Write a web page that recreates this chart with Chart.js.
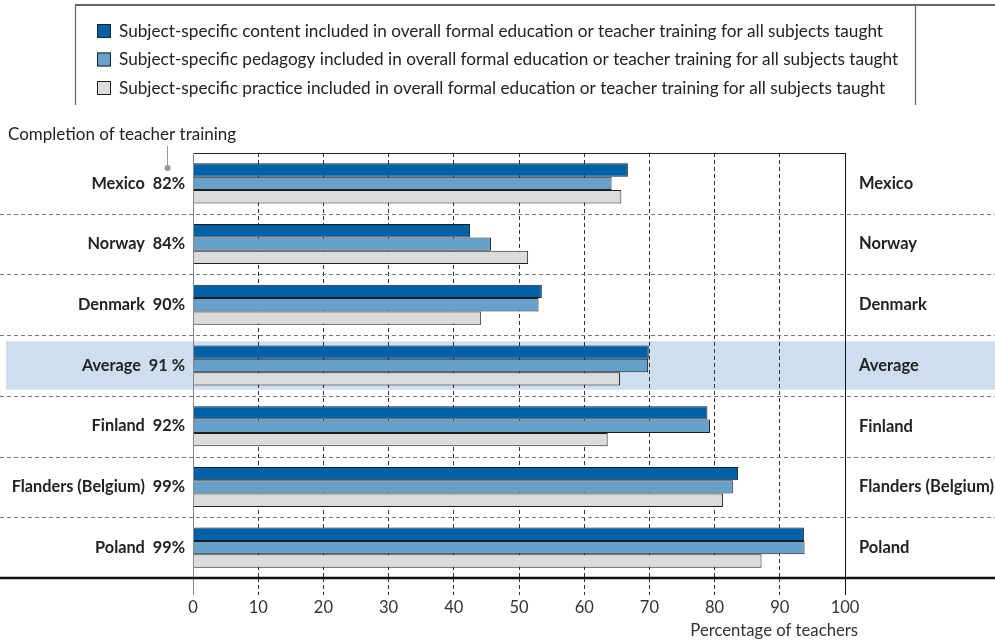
<!DOCTYPE html>
<html>
<head>
<meta charset="utf-8">
<script src="https://cdn.jsdelivr.net/npm/chart.js@4/dist/chart.umd.min.js"></script>
<style>
  html, body { margin: 0; padding: 0; background: #fff; }
  #wrap { width: 995px; height: 641px; position: relative; }
</style>
</head>
<body>
<div id="wrap"><canvas id="chart"></canvas></div>
<script>
// Categories and completion of teacher training
const countries = ['Mexico', 'Norway', 'Denmark', 'Average', 'Finland', 'Flanders (Belgium)', 'Poland'];
const completion = ['82%', '84%', '90%', '91 %', '92%', '99%', '99%'];

// Percentage of teachers
const contentVals = [66.7, 42.5, 53.5, 69.9, 78.9, 83.6, 93.7];
const pedagogyVals = [64.2, 45.7, 53.0, 69.8, 79.3, 82.8, 93.8];
const practiceVals = [65.7, 51.4, 44.2, 65.5, 63.6, 81.3, 87.2];

const seriesNames = [
  'Subject-specific content included in overall formal education or teacher training for all subjects taught',
  'Subject-specific pedagogy included in overall formal education or teacher training for all subjects taught',
  'Subject-specific practice included in overall formal education or teacher training for all subjects taught'
];
const xTicks = [0, 10, 20, 30, 40, 50, 60, 70, 80, 90, 100];

const FONT = 'Lato';
const leftLabels = countries.map((c, i) => c + '  ' + completion[i]);
const colors = ['#0061a9', '#68a0cc', '#dadbdd'];

const decor = {
  id: 'decor',
  beforeDraw(chart) {
    const { ctx, scales: { y } } = chart;
    const step = y.getPixelForValue(1) - y.getPixelForValue(0);
    const cy = y.getPixelForValue(countries.indexOf('Average'));
    ctx.save();
    ctx.fillStyle = '#cddfee';
    ctx.fillRect(6, cy - step * 0.4, 989, step * 0.8);
    ctx.restore();
  },
  beforeDatasetsDraw(chart) {
    const { ctx, scales: { y } } = chart;
    ctx.save();
    ctx.strokeStyle = '#777';
    ctx.lineWidth = 1;
    ctx.setLineDash([4, 3]);
    for (let i = 0; i < countries.length - 1; i++) {
      const yy = Math.round((y.getPixelForValue(i) + y.getPixelForValue(i + 1)) / 2) + 0.5;
      ctx.beginPath();
      ctx.moveTo(0, yy);
      ctx.lineTo(995, yy);
      ctx.stroke();
    }
    ctx.restore();
  },
  afterDraw(chart) {
    const { ctx, chartArea: a, scales: { x } } = chart;
    ctx.save();
    // frame of the plot
    ctx.strokeStyle = '#222';
    ctx.lineWidth = 1;
    ctx.beginPath();
    ctx.moveTo(a.left, a.top + 0.5);
    ctx.lineTo(a.right, a.top + 0.5);
    ctx.stroke();
    const x0 = Math.round(x.getPixelForValue(0)) + 0.5;
    const x100 = Math.round(x.getPixelForValue(100)) + 0.5;
    ctx.strokeStyle = '#888';
    ctx.beginPath();
    ctx.moveTo(x0, a.top);
    ctx.lineTo(x0, a.bottom + 17);
    ctx.stroke();
    ctx.strokeStyle = '#111';
    ctx.beginPath();
    ctx.moveTo(x100, a.top);
    ctx.lineTo(x100, a.bottom + 17);
    ctx.stroke();
    // thick baseline
    ctx.strokeStyle = '#111';
    ctx.lineWidth = 2.5;
    ctx.beginPath();
    ctx.moveTo(0, a.bottom);
    ctx.lineTo(995, a.bottom);
    ctx.stroke();

    // legend frame
    ctx.strokeStyle = '#666';
    ctx.lineWidth = 2;
    ctx.beginPath();
    ctx.moveTo(75, 5);
    ctx.lineTo(995, 5);
    ctx.stroke();
    ctx.lineWidth = 1.2;
    ctx.beginPath();
    ctx.moveTo(75.5, 5);
    ctx.lineTo(75.5, 105);
    ctx.moveTo(915.5, 5);
    ctx.lineTo(915.5, 105);
    ctx.stroke();

    // legend items
    ctx.font = '17.2px ' + FONT;
    ctx.textBaseline = 'middle';
    ctx.textAlign = 'left';
    seriesNames.forEach((name, i) => {
      const cy = 31 + i * 28.5;
      ctx.fillStyle = colors[i];
      ctx.fillRect(97, cy - 7, 14, 14);
      ctx.strokeStyle = '#222';
      ctx.lineWidth = 1;
      ctx.strokeRect(97.5, cy - 6.5, 13, 13);
      ctx.fillStyle = '#222';
      ctx.fillText(name, 119, cy);
    });

    // annotation
    ctx.font = '17px ' + FONT;
    ctx.fillStyle = '#222';
    ctx.fillText('Completion of teacher training', 8, 135);
    ctx.strokeStyle = '#999';
    ctx.lineWidth = 1;
    ctx.beginPath();
    ctx.moveTo(167.5, 146);
    ctx.lineTo(167.5, 168);
    ctx.stroke();
    ctx.fillStyle = '#999';
    ctx.beginPath();
    ctx.arc(167.5, 168, 3, 0, Math.PI * 2);
    ctx.fill();

    // axis title
    ctx.font = '16.7px ' + FONT;
    ctx.fillStyle = '#333';
    ctx.textAlign = 'right';
    ctx.fillText('Percentage of teachers', 858, 631);
    ctx.restore();
  }
};

const hideEnds = c => (c.tick && (c.tick.value === 0 || c.tick.value === 100)) ? 'rgba(0,0,0,0)' : '#333';

new Chart(document.getElementById('chart'), {
  type: 'bar',
  data: {
    labels: leftLabels,
    datasets: [contentVals, pedagogyVals, practiceVals].map((d, i) => ({
      label: seriesNames[i],
      data: d,
      backgroundColor: colors[i],
      borderColor: '#1e1e1e',
      borderWidth: 1,
      barPercentage: 1,
      categoryPercentage: 0.66
    }))
  },
  options: {
    indexAxis: 'y',
    responsive: true,
    maintainAspectRatio: false,
    animation: false,
    layout: { padding: { top: 153, left: 0, right: 0, bottom: 0 } },
    plugins: { legend: { display: false }, tooltip: { enabled: false } },
    scales: {
      x: {
        min: 0, max: 100,
        afterBuildTicks: s => { s.ticks = xTicks.map(v => ({ value: v })); },
        ticks: { color: '#333', font: { family: FONT, size: 16.5 }, padding: 3 },
        grid: { color: hideEnds, tickColor: hideEnds, tickLength: 17, tickBorderDash: [4, 3] },
        border: { display: false, dash: [4, 3] },
        afterFit: s => { s.height = 63; }
      },
      y: {
        offset: true,
        ticks: { color: '#222', font: { family: FONT, size: 16.3, weight: 'bold' }, padding: 8 },
        grid: { display: false, drawTicks: false },
        border: { display: false },
        afterFit: s => { s.width = 193; }
      },
      y2: {
        type: 'category',
        position: 'right',
        labels: countries,
        offset: true,
        ticks: { color: '#222', font: { family: FONT, size: 16.5, weight: 'bold' }, padding: 14 },
        grid: { display: false, drawTicks: false },
        border: { display: false },
        afterFit: s => { s.width = 150; }
      }
    }
  },
  plugins: [decor]
});
</script>
</body>
</html>
